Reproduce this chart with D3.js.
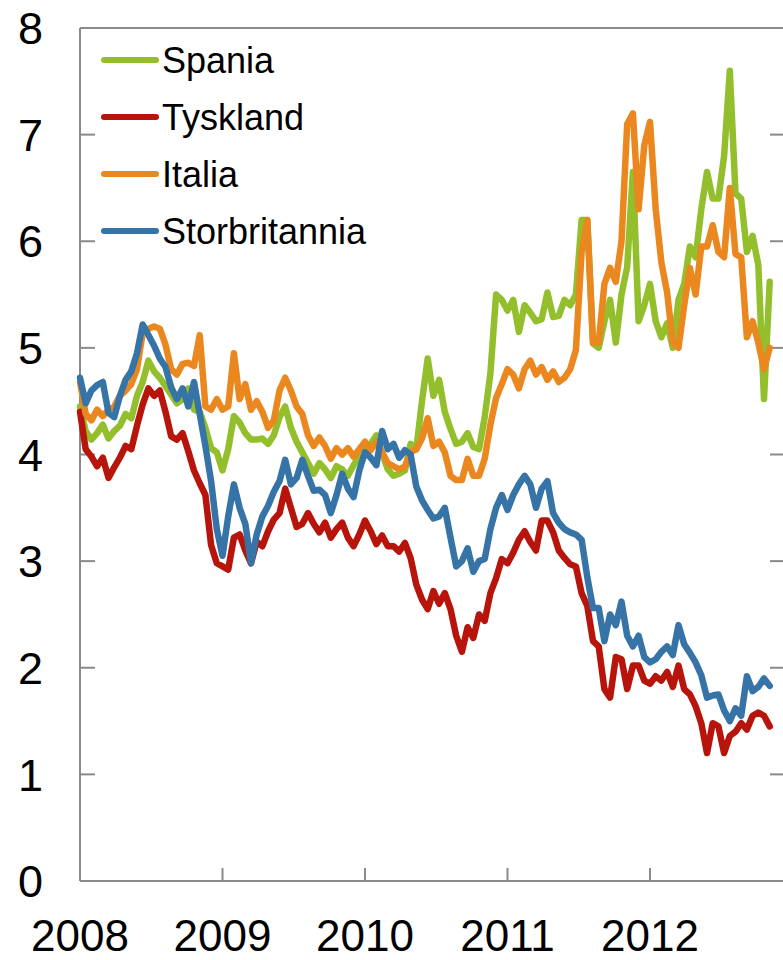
<!DOCTYPE html>
<html>
<head>
<meta charset="utf-8">
<script src="https://cdn.jsdelivr.net/npm/d3@7"></script>
<style>
  body { margin: 0; background: #fff; }
  text { font-family: "Liberation Sans", Arial, sans-serif; fill: #000; }
</style>
</head>
<body>
<div class="chart"></div>
<script>
var years = [2008, 2009, 2010, 2011, 2012];
var yTicks = [0, 1, 2, 3, 4, 5, 6, 7, 8];
var names = ["Spania", "Tyskland", "Italia", "Storbritannia"];
var colors = ["#93bf2d", "#b7150b", "#eb871f", "#3673a6"];

var spania = [4.45,4.22,4.14,4.20,4.28,4.15,4.22,4.27,4.38,4.34,4.55,4.68,4.88,4.78,4.72,4.64,4.56,4.48,4.52,4.62,4.42,4.40,4.25,4.06,4.02,3.85,
  4.05,4.36,4.30,4.20,4.14,4.14,4.15,4.10,4.18,4.35,4.45,4.25,4.12,4.02,3.92,3.82,3.92,3.86,3.78,3.89,3.86,3.80,3.90,3.98,4.05,
  4.10,4.18,4.01,3.86,3.80,3.82,3.85,4.10,4.05,4.50,4.90,4.55,4.70,4.40,4.24,4.10,4.12,4.20,4.07,4.05,4.35,4.76,5.50,5.45,5.35,
  5.45,5.15,5.40,5.33,5.25,5.27,5.52,5.29,5.30,5.45,5.40,5.50,6.20,6.20,5.04,5.00,5.25,5.45,5.05,5.50,5.76,6.65,5.25,5.40,5.60,
  5.25,5.10,5.23,5.00,5.45,5.60,5.95,5.85,6.30,6.65,6.40,6.40,6.80,7.60,6.45,6.40,5.90,6.05,5.78,4.52,5.62];

var tyskland = [4.40,4.05,3.98,3.89,3.97,3.78,3.88,3.97,4.08,4.05,4.27,4.47,4.62,4.55,4.60,4.40,4.17,4.14,4.20,4.03,3.85,3.73,3.62,3.15,2.98,2.95,
  2.92,3.22,3.25,3.10,2.98,3.18,3.14,3.28,3.39,3.45,3.68,3.50,3.32,3.35,3.45,3.35,3.27,3.36,3.22,3.30,3.36,3.22,3.14,3.25,3.38,
  3.28,3.16,3.24,3.14,3.14,3.09,3.17,3.03,2.78,2.64,2.55,2.72,2.60,2.70,2.55,2.30,2.15,2.38,2.28,2.50,2.44,2.70,2.84,3.02,2.98,
  3.08,3.20,3.28,3.18,3.10,3.38,3.38,3.27,3.10,3.03,2.97,2.95,2.70,2.58,2.25,2.20,1.80,1.72,2.10,2.08,1.80,2.02,2.02,1.88,1.85,
  1.92,1.88,1.96,1.82,2.02,1.80,1.75,1.64,1.48,1.20,1.48,1.45,1.20,1.36,1.40,1.48,1.42,1.55,1.58,1.55,1.45];

var italia = [4.68,4.38,4.32,4.42,4.36,4.42,4.45,4.55,4.60,4.66,4.80,5.14,5.18,5.20,5.18,5.03,4.80,4.75,4.85,4.86,4.83,5.12,4.45,4.42,4.52,4.42,
  4.45,4.95,4.52,4.66,4.42,4.50,4.40,4.25,4.32,4.60,4.72,4.60,4.45,4.38,4.18,4.08,4.16,4.08,3.96,4.06,4.00,4.06,3.98,4.05,4.12,
  4.04,4.12,4.02,3.92,3.89,3.86,3.89,4.02,4.05,4.15,4.34,4.08,4.12,4.02,3.80,3.76,3.76,3.96,3.80,3.80,3.96,4.28,4.53,4.66,4.80,
  4.75,4.62,4.80,4.88,4.75,4.82,4.70,4.78,4.68,4.72,4.80,4.98,5.90,6.20,5.05,5.05,5.60,5.75,5.62,6.00,7.10,7.20,6.30,6.90,7.12,
  6.30,5.80,5.52,5.05,5.00,5.40,5.75,5.50,5.95,5.95,6.15,5.90,5.85,6.50,5.88,5.85,5.10,5.25,5.05,4.80,5.00];

var storbritannia = [4.72,4.48,4.60,4.65,4.68,4.39,4.35,4.55,4.70,4.78,4.95,5.22,5.12,5.02,4.90,4.82,4.63,4.52,4.62,4.45,4.68,4.38,4.08,3.75,3.30,3.05,
  3.42,3.72,3.50,3.35,2.98,3.25,3.42,3.52,3.65,3.75,3.95,3.72,3.78,3.95,3.80,3.66,3.67,3.62,3.45,3.62,3.82,3.68,3.60,3.85,4.02,
  3.97,3.90,4.22,4.05,4.10,3.97,4.04,4.00,3.70,3.57,3.48,3.40,3.42,3.50,3.22,2.95,3.00,3.12,2.90,3.00,3.02,3.30,3.50,3.62,3.48,
  3.62,3.72,3.80,3.72,3.50,3.68,3.75,3.45,3.36,3.30,3.27,3.25,3.20,2.85,2.56,2.56,2.25,2.50,2.40,2.62,2.30,2.20,2.30,2.10,2.05,
  2.08,2.15,2.20,2.12,2.40,2.22,2.14,2.05,1.93,1.72,1.74,1.75,1.60,1.50,1.62,1.55,1.92,1.78,1.82,1.90,1.83];

/*sampling dates as fractional years, one point every ~2 weeks*/
var dates = d3.range(spania.length).map(function(i){ return 2008 + i * 0.04; });

var series = [spania, tyskland, italia, storbritannia];

var W = 783, H = 960;
var pLeft = 80, pRight = 783, pTop = 28, pBottom = 881;
var axisColor = "#8a8a8a";

var svg = d3.select(".chart")
    .append("svg")
    .attr("width", W)
    .attr("height", H);

var x = d3.scaleLinear().domain([2008, 2013]).range([pLeft, 792.5]);
var y = d3.scaleLinear().domain([0, 8]).range([pBottom, pTop]);

/*FRAME : top line, left axis, bottom axis*/
svg.append("line")
    .attr("x1", pLeft).attr("x2", pRight)
    .attr("y1", pTop).attr("y2", pTop)
    .attr("stroke", axisColor).attr("stroke-width", 2);

svg.append("line")
    .attr("x1", pLeft).attr("x2", pLeft)
    .attr("y1", pTop).attr("y2", pBottom)
    .attr("stroke", axisColor).attr("stroke-width", 2);

svg.append("line")
    .attr("x1", pLeft).attr("x2", pRight)
    .attr("y1", pBottom).attr("y2", pBottom)
    .attr("stroke", axisColor).attr("stroke-width", 2);

/*Y AXIS : ticks inside on both sides, labels on the left*/
var yInner = yTicks.filter(function(d){ return d > 0 && d < 8; });

svg.selectAll(".ytick-l")
    .data(yInner).enter()
    .append("line")
    .attr("x1", pLeft).attr("x2", pLeft + 15)
    .attr("y1", function(d){ return y(d); })
    .attr("y2", function(d){ return y(d); })
    .attr("stroke", axisColor).attr("stroke-width", 2);

svg.selectAll(".ytick-r")
    .data(yInner).enter()
    .append("line")
    .attr("x1", pRight - 13).attr("x2", pRight)
    .attr("y1", function(d){ return y(d); })
    .attr("y2", function(d){ return y(d); })
    .attr("stroke", axisColor).attr("stroke-width", 2);

svg.selectAll(".ylab")
    .data(yTicks).enter()
    .append("text")
    .attr("x", 43)
    .attr("y", function(d){ return y(d); })
    .attr("dy", "0.36em")
    .attr("text-anchor", "end")
    .attr("font-size", 45)
    .text(function(d){ return d; });

/*X AXIS*/
svg.selectAll(".xtick")
    .data(years.slice(1)).enter()
    .append("line")
    .attr("x1", function(d){ return x(d); })
    .attr("x2", function(d){ return x(d); })
    .attr("y1", pBottom - 13).attr("y2", pBottom)
    .attr("stroke", axisColor).attr("stroke-width", 2);

svg.selectAll(".xlab")
    .data(years).enter()
    .append("text")
    .attr("x", function(d){ return x(d); })
    .attr("y", 951)
    .attr("text-anchor", "middle")
    .attr("font-size", 44)
    .text(function(d){ return d; });

/*LINES*/
var line = d3.line()
    .x(function(d, i){ return x(dates[i]); })
    .y(function(d){ return y(d); });

svg.selectAll(".serie")
    .data(series).enter()
    .append("path")
    .attr("d", line)
    .attr("fill", "none")
    .attr("stroke", function(d, i){ return colors[i]; })
    .attr("stroke-width", 6.5)
    .attr("stroke-linejoin", "round")
    .attr("stroke-linecap", "round");

/*LEGEND*/
var legend = svg.selectAll(".legend")
    .data(names).enter()
    .append("g")
    .attr("transform", function(d, i){ return "translate(0," + (60 + i * 57) + ")"; });

legend.append("line")
    .attr("x1", 104).attr("x2", 156)
    .attr("stroke", function(d, i){ return colors[i]; })
    .attr("stroke-width", 6)
    .attr("stroke-linecap", "round");

legend.append("text")
    .attr("x", 162)
    .attr("dy", "0.36em")
    .attr("font-size", 36)
    .text(function(d){ return d; });
</script>
</body>
</html>
